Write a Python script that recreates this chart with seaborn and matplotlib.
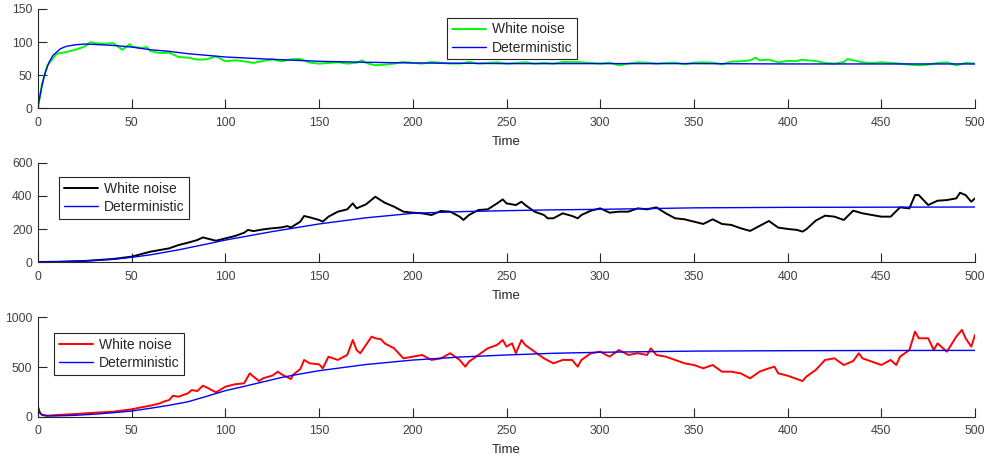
import matplotlib
matplotlib.use("Agg")
import matplotlib.pyplot as plt
import seaborn as sns
import pandas as pd

# ---------------- data ----------------
# Top panel
det1_t = [0, 1, 2, 3, 4, 5, 6, 8, 10, 12, 15, 20, 25, 30, 40, 50, 60, 70, 80, 90, 100,
          125, 150, 175, 200, 250, 300, 350, 400, 450, 500]
det1_y = [3.5, 18, 32, 45, 55, 63, 70, 80, 85, 90, 93.5, 96, 97, 96.5, 95, 92.5, 88.5, 86,
          82.5, 80, 77.5, 74, 71, 69.5, 68.5, 67.5, 67.5, 67.5, 67, 67, 67]
wn1_t = [0, 2, 5, 10, 15, 20, 25, 28, 30, 35, 40, 45, 49, 50, 55, 58, 60, 65, 70, 75, 80,
         85, 90, 95, 100, 105, 110, 115, 120, 125, 130, 135, 140, 145, 150, 155, 160, 165,
         170, 173, 175, 180, 185, 190, 195, 200, 205, 210, 215, 220, 225, 230, 235, 240,
         245, 250, 255, 260, 265, 270, 275, 280, 285, 290, 295, 300, 305, 310, 315, 320,
         325, 330, 335, 340, 345, 350, 355, 360, 365, 370, 375, 380, 383, 385, 390, 395,
         400, 405, 408, 410, 415, 420, 425, 430, 432, 435, 440, 445, 450, 455, 460, 465,
         470, 475, 480, 485, 490, 495, 500]
wn1_y = [0, 35, 65, 82.5, 85, 88.5, 93.5, 100, 98.5, 97.5, 98.5, 88.5, 97, 93.5, 91, 92.5,
         86.5, 83.5, 84, 77.5, 76.5, 73.5, 74, 78.5, 71, 72.5, 71, 68.5, 71.5, 74, 71, 74,
         74.5, 69, 67.5, 68.5, 69.5, 67.5, 69, 72.5, 68.5, 65, 66, 67.5, 70, 68.5, 67.5,
         70, 68.5, 67.5, 67.5, 70, 67.5, 68.5, 69.5, 67.5, 68.5, 69.5, 67.5, 68.5, 67.5,
         70, 70, 69.5, 68.5, 67.5, 69, 65, 67.5, 69.5, 69, 67.5, 68.5, 69, 66.5, 69, 69.5,
         69, 66.5, 70.5, 71, 72.5, 76.5, 72.5, 73.5, 69.5, 71.5, 71.5, 73.5, 72.5, 71.5,
         68.5, 67.5, 70, 74.5, 72.5, 69.5, 68.5, 69.5, 68.5, 67.5, 66, 65, 66, 68.5, 69.5,
         65, 68.5, 67.5]

# Middle panel
det2_t = [0, 10, 25, 40, 50, 60, 75, 90, 100, 125, 150, 175, 200, 225, 250, 275, 300,
          350, 400, 450, 500]
det2_y = [2, 3, 8, 18, 30, 45, 75, 110, 134, 185, 231, 268, 295, 305, 311, 316, 319,
          328, 331, 332, 333]
wn2_t = [0, 10, 25, 40, 50, 60, 70, 75, 80, 85, 88, 90, 95, 100, 105, 110, 112, 115, 120,
         125, 130, 133, 135, 140, 142, 145, 150, 152, 155, 160, 165, 168, 170, 175, 180,
         185, 190, 195, 200, 205, 210, 215, 220, 225, 227, 230, 235, 240, 245, 248, 250,
         255, 258, 260, 265, 270, 272, 275, 280, 285, 288, 290, 295, 300, 305, 310, 315,
         320, 325, 330, 335, 340, 345, 350, 355, 360, 365, 370, 375, 380, 385, 390, 395,
         400, 405, 408, 410, 415, 420, 425, 430, 435, 440, 445, 450, 455, 460, 465, 468,
         470, 475, 480, 485, 490, 492, 495, 498, 500]
wn2_y = [2, 3, 8, 20, 34, 64, 84, 104, 118, 134, 150, 144, 130, 144, 158, 178, 195, 188,
         198, 205, 210, 218, 210, 245, 279, 271, 255, 245, 275, 305, 319, 355, 325, 349,
         395, 359, 335, 305, 299, 295, 285, 309, 305, 275, 255, 285, 315, 319, 355, 379,
         355, 345, 365, 345, 305, 285, 265, 265, 295, 279, 265, 285, 311, 325, 299, 305,
         305, 325, 319, 331, 295, 265, 259, 245, 231, 259, 231, 225, 205, 189, 219, 249,
         209, 201, 195, 185, 199, 251, 281, 275, 255, 311, 295, 285, 275, 275, 331, 325,
         405, 405, 345, 371, 375, 385, 419, 405, 365, 385]

# Bottom panel
det3_t = [0, 1, 2, 3, 5, 10, 20, 30, 40, 50, 60, 70, 80, 90, 100, 110, 120, 130, 140,
          150, 175, 200, 225, 250, 275, 300, 325, 350, 400, 450, 500]
det3_y = [100, 40, 20, 12, 8, 8, 14, 25, 40, 57, 85, 115, 150, 205, 262, 305, 350, 395,
          430, 463, 525, 570, 600, 621, 638, 648, 654, 660, 664, 666, 667]
wn3_t = [0, 1, 2, 5, 10, 20, 30, 40, 50, 55, 60, 65, 67, 70, 72, 75, 80, 82, 85, 88, 90,
         95, 100, 105, 110, 113, 115, 118, 120, 125, 128, 130, 135, 136, 140, 142, 145,
         150, 152, 155, 160, 165, 168, 170, 172, 175, 178, 180, 183, 185, 190, 195, 200,
         205, 210, 215, 220, 225, 228, 230, 235, 240, 245, 248, 250, 253, 255, 258, 260,
         265, 270, 275, 280, 285, 288, 290, 295, 300, 305, 310, 315, 320, 325, 327, 330,
         335, 340, 345, 350, 355, 360, 365, 370, 375, 380, 385, 390, 393, 395, 400, 405,
         408, 410, 415, 420, 425, 430, 435, 438, 440, 445, 450, 455, 458, 460, 465, 468,
         470, 475, 478, 480, 485, 490, 493, 495, 498, 500]
wn3_y = [100, 40, 20, 10, 17, 27, 40, 50, 74, 94, 111, 134, 151, 168, 211, 201, 235, 268,
         258, 312, 295, 245, 302, 326, 336, 436, 403, 359, 386, 413, 453, 426, 379, 420,
         480, 571, 537, 527, 487, 604, 571, 621, 772, 671, 638, 722, 805, 789, 779, 738,
         688, 587, 604, 621, 571, 587, 638, 571, 503, 554, 621, 688, 722, 772, 705, 738,
         638, 772, 722, 654, 587, 537, 571, 571, 503, 571, 638, 654, 604, 671, 621, 638,
         621, 688, 621, 604, 571, 537, 520, 487, 520, 453, 453, 436, 386, 453, 487, 503,
         436, 413, 379, 359, 403, 470, 571, 587, 520, 560, 638, 587, 554, 520, 571, 520,
         604, 671, 856, 789, 789, 671, 738, 654, 805, 873, 789, 705, 822]

panels = [
    dict(wt=wn1_t, wy=wn1_y, dt=det1_t, dy=det1_y, color=(0, 1, 0), ylim=(0, 150),
         yticks=[0, 50, 100, 150], leg=(446, 17, 132, 43)),
    dict(wt=wn2_t, wy=wn2_y, dt=det2_t, dy=det2_y, color=(0, 0, 0), ylim=(0, 600),
         yticks=[0, 200, 400, 600], leg=(58, 177, 132, 42)),
    dict(wt=wn3_t, wy=wn3_y, dt=det3_t, dy=det3_y, color=(1, 0, 0), ylim=(0, 1000),
         yticks=[0, 500, 1000], leg=(53, 332, 132, 44)),
]

# ---------------- styling ----------------
sns.set_theme(style="white")
plt.rcParams["font.family"] = ["Liberation Sans", "DejaVu Sans"]
plt.rcParams["xtick.direction"] = "in"
plt.rcParams["ytick.direction"] = "in"

W, H = 985, 457
fig = plt.figure(figsize=(W / 100, H / 100), dpi=100)

boxes = [(9, 108.3), (162.7, 262.3), (317.3, 416.7)]
x0, x1 = 38, 975
axis_col = "#262626"
tick_col = "#404040"

for p, (top, bot) in zip(panels, boxes):
    ax = fig.add_axes([x0 / W, 1 - bot / H, (x1 - x0) / W, (bot - top) / H])
    dfw = pd.DataFrame({"Time": p["wt"], "value": p["wy"]})
    dfd = pd.DataFrame({"Time": p["dt"], "value": p["dy"]})
    sns.lineplot(data=dfw, x="Time", y="value", ax=ax, color=p["color"], lw=1.4,
                 estimator=None, label="White noise")
    sns.lineplot(data=dfd, x="Time", y="value", ax=ax, color=(0, 0, 1), lw=1.0,
                 estimator=None, label="Deterministic")
    ax.set_xlim(0, 500)
    ax.set_ylim(*p["ylim"])
    ax.set_xticks(range(0, 501, 50))
    ax.set_yticks(p["yticks"])
    ax.set_ylabel("")
    ax.set_xlabel("Time", fontsize=9.5, color="#262626", labelpad=5)
    for s in ["top", "right"]:
        ax.spines[s].set_visible(False)
    for s in ["left", "bottom"]:
        ax.spines[s].set_color(axis_col)
        ax.spines[s].set_linewidth(0.8)
    ax.tick_params(axis="both", which="major", bottom=True, left=True, top=False,
                   right=False, direction="in", length=6.5, width=0.8, color=axis_col,
                   labelsize=8.8, labelcolor=tick_col)
    ax.tick_params(axis="x", pad=6)
    ax.tick_params(axis="y", pad=4)
    lx, ly, lw_, lh = p["leg"]
    bbox = (lx / W, 1 - (ly + lh) / H, lw_ / W, lh / H)
    leg = ax.legend(loc="center", bbox_to_anchor=bbox, bbox_transform=fig.transFigure,
                    fontsize=10, frameon=True, fancybox=False, borderpad=0.35,
                    handlelength=2.5, handletextpad=0.4, labelspacing=0.3,
                    borderaxespad=0)
    leg.get_frame().set_edgecolor("#262626")
    leg.get_frame().set_linewidth(0.8)
    leg.get_frame().set_facecolor("white")
    leg.get_frame().set_alpha(1)

fig.savefig("out.png", dpi=100)
